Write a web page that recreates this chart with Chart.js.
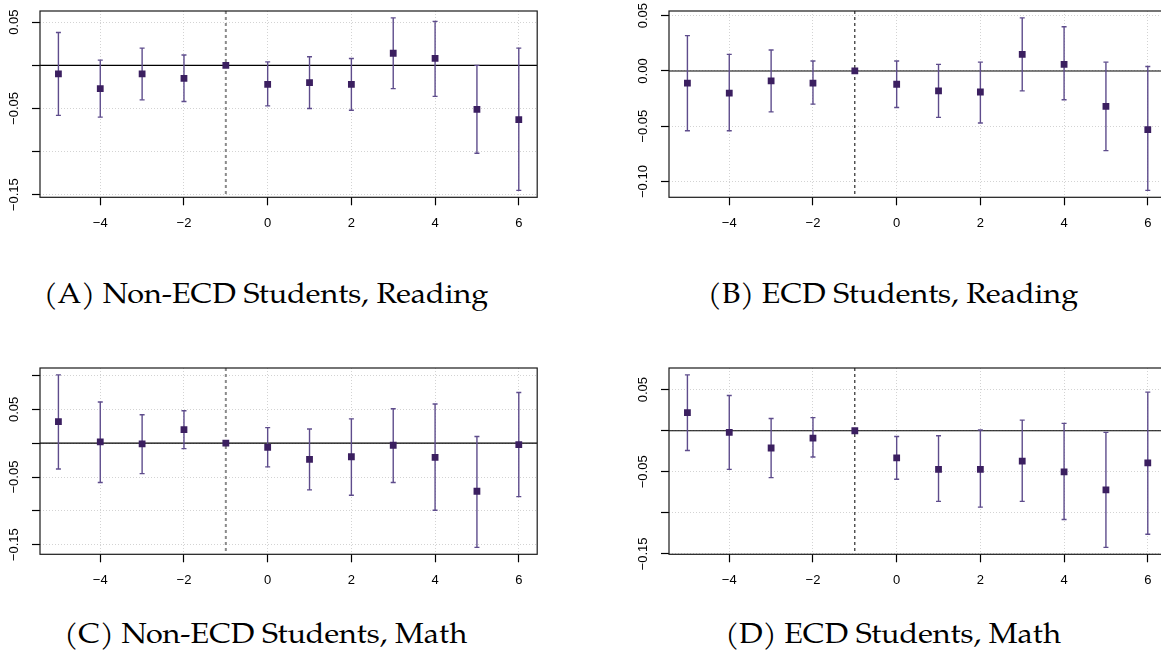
<!DOCTYPE html>
<html>
<head>
<meta charset="utf-8">
<script src="https://cdn.jsdelivr.net/npm/chart.js@4.4.1/dist/chart.umd.min.js"></script>
<style>
  html, body { margin: 0; padding: 0; background: #fff; overflow: hidden; width: 1161px; height: 655px; }
  .panel { position: absolute; width: 580px; height: 245px; }
  .panel canvas { display: block; }
  .cap {
    position: absolute; width: 532px; text-align: center; white-space: nowrap;
    font-family: "Palatino Linotype", "TeX Gyre Pagella", "Liberation Serif", serif;
    font-size: 28px; line-height: 28px; color: #000;
  }
  .cap span { display: inline-block; transform: scaleX(1.09); }
</style>
</head>
<body>
<div class="panel" style="left:0;top:0"><canvas id="chartA" width="580" height="245"></canvas></div>
<div class="panel" style="left:629px;top:0"><canvas id="chartB" width="580" height="245"></canvas></div>
<div class="panel" style="left:0;top:357px"><canvas id="chartC" width="580" height="245"></canvas></div>
<div class="panel" style="left:629px;top:357px"><canvas id="chartD" width="580" height="245"></canvas></div>
<div class="cap" style="left:0;top:283px"><span>(A) Non-ECD Students, Reading</span></div>
<div class="cap" style="left:627px;top:283px"><span>(B) ECD Students, Reading</span></div>
<div class="cap" style="left:0;top:623px"><span>(C) Non-ECD Students, Math</span></div>
<div class="cap" style="left:627px;top:623px"><span>(D) ECD Students, Math</span></div>
<script>
// event time relative to treatment
const xValues = [-5, -4, -3, -2, -1, 0, 1, 2, 3, 4, 5, 6];
const xTicks = [-4, -2, 0, 2, 4, 6];

// (A) Non-ECD students, reading
const readNonEst  = [-0.010, -0.027, -0.010, -0.015, 0, -0.022, -0.020, -0.022, 0.014, 0.008, -0.051, -0.063];
const readNonLow  = [-0.058, -0.060, -0.040, -0.042, 0, -0.047, -0.050, -0.052, -0.027, -0.036, -0.102, -0.145];
const readNonHigh = [0.038, 0.006, 0.020, 0.012, 0, 0.004, 0.010, 0.008, 0.055, 0.051, 0.000, 0.020];

// (B) ECD students, reading
const readEcdEst  = [-0.011, -0.020, -0.009, -0.011, 0, -0.012, -0.018, -0.019, 0.015, 0.006, -0.032, -0.053];
const readEcdLow  = [-0.054, -0.054, -0.037, -0.030, 0, -0.033, -0.042, -0.047, -0.018, -0.026, -0.072, -0.108];
const readEcdHigh = [0.032, 0.015, 0.019, 0.009, 0, 0.009, 0.006, 0.008, 0.048, 0.040, 0.008, 0.004];

// (C) Non-ECD students, math
const mathNonEst  = [0.032, 0.002, -0.001, 0.020, 0, -0.006, -0.024, -0.020, -0.003, -0.021, -0.071, -0.002];
const mathNonLow  = [-0.038, -0.058, -0.045, -0.008, 0, -0.035, -0.069, -0.077, -0.058, -0.099, -0.154, -0.079];
const mathNonHigh = [0.101, 0.061, 0.042, 0.048, 0, 0.023, 0.021, 0.036, 0.051, 0.058, 0.010, 0.075];

// (D) ECD students, math
const mathEcdEst  = [0.022, -0.002, -0.021, -0.009, 0, -0.033, -0.047, -0.047, -0.037, -0.050, -0.072, -0.039];
const mathEcdLow  = [-0.024, -0.047, -0.057, -0.032, 0, -0.059, -0.086, -0.093, -0.086, -0.108, -0.142, -0.126];
const mathEcdHigh = [0.068, 0.043, 0.015, 0.016, 0, -0.007, -0.006, 0.001, 0.013, 0.009, -0.002, 0.047];

// y ticks and which ones get a label
const yTicksA = [-0.15, -0.10, -0.05, 0, 0.05];
const yLabelsA = ["−0.15", "", "−0.05", "", "0.05"];
const yTicksB = [-0.10, -0.05, 0, 0.05];
const yLabelsB = ["−0.10", "−0.05", "0.00", "0.05"];
const yTicksC = [-0.15, -0.10, -0.05, 0, 0.05, 0.10];
const yLabelsC = ["−0.15", "", "−0.05", "", "0.05", ""];
const yTicksD = [-0.15, -0.10, -0.05, 0, 0.05];
const yLabelsD = ["−0.15", "", "−0.05", "", "0.05"];

const refX = -1;
const tickFont = { family: '"Liberation Sans", Arial, Helvetica, sans-serif', size: 13 };

function line(ctx, x1, y1, x2, y2) {
  ctx.beginPath();
  ctx.moveTo(x1, y1);
  ctx.lineTo(x2, y2);
  ctx.stroke();
}

function makePanel(id, est, low, high, yTicks, yLabels, refStyle) {
  // R-style axis range: data range padded by 4% each side
  const lo = Math.min(...low), hi = Math.max(...high);
  const pad = (hi - lo) * 0.04;
  const xPad = (xValues[xValues.length - 1] - xValues[0]) * 0.04;

  const decor = {
    id: 'decor_' + id,
    beforeDatasetsDraw(chart) {
      const { ctx, chartArea: a, scales: { x, y } } = chart;
      ctx.save();
      ctx.beginPath();
      ctx.rect(a.left, a.top, a.right - a.left, a.bottom - a.top);
      ctx.clip();
      // zero line
      ctx.strokeStyle = '#000';
      ctx.lineWidth = 1.2;
      ctx.setLineDash([]);
      const y0 = y.getPixelForValue(0);
      line(ctx, a.left, y0, a.right, y0);
      // treatment reference line
      const xr = x.getPixelForValue(refX);
      ctx.strokeStyle = refStyle.color;
      ctx.lineWidth = refStyle.width;
      ctx.setLineDash(refStyle.dash);
      line(ctx, xr, a.top, xr, a.bottom);
      // confidence intervals
      ctx.setLineDash([]);
      ctx.strokeStyle = '#5e4c8c';
      ctx.lineWidth = 1.4;
      low.forEach((l, i) => {
        const h = high[i];
        if (l === h) return;
        const px = x.getPixelForValue(xValues[i]);
        const pl = y.getPixelForValue(l);
        const ph = y.getPixelForValue(h);
        line(ctx, px, pl, px, ph);
        line(ctx, px - 2.5, pl, px + 2.5, pl);
        line(ctx, px - 2.5, ph, px + 2.5, ph);
      });
      ctx.restore();
    },
    afterDraw(chart) {
      const { ctx, chartArea: a, scales: { y } } = chart;
      ctx.save();
      ctx.strokeStyle = '#1a1a1a';
      ctx.lineWidth = 1.2;
      ctx.strokeRect(a.left, a.top, a.right - a.left, a.bottom - a.top);
      // rotated y labels
      ctx.fillStyle = '#000';
      ctx.font = '13px "Liberation Sans", Arial, Helvetica, sans-serif';
      ctx.textAlign = 'center';
      ctx.textBaseline = 'middle';
      yTicks.forEach((v, i) => {
        if (!yLabels[i]) return;
        ctx.save();
        ctx.translate(a.left - 25.5, y.getPixelForValue(v));
        ctx.rotate(-Math.PI / 2);
        ctx.fillText(yLabels[i], 0, 0);
        ctx.restore();
      });
      ctx.restore();
    }
  };

  const gridBase = {
    color: '#d3d3d3',
    lineWidth: 1,
    tickColor: '#000',
    tickWidth: 1.2,
    tickLength: 8,
    tickBorderDash: []
  };

  return new Chart(document.getElementById(id), {
    type: 'scatter',
    data: {
      datasets: [{
        data: xValues.map((xv, i) => ({ x: xv, y: est[i] })),
        pointStyle: 'rect',
        pointRadius: 4.8,
        backgroundColor: '#3b1f60',
        borderWidth: 0
      }]
    },
    options: {
      responsive: false,
      animation: false,
      events: [],
      layout: { padding: { top: 11, right: 42.8, left: 0, bottom: 0 } },
      plugins: { legend: { display: false }, tooltip: { enabled: false } },
      scales: {
        x: {
          type: 'linear',
          min: xValues[0] - xPad,
          max: xValues[xValues.length - 1] + xPad,
          afterBuildTicks: (s) => { s.ticks = xTicks.map(v => ({ value: v })); },
          afterFit: (s) => { s.height = 47.7; },
          grid: gridBase,
          border: { display: false, dash: [1, 2] },
          ticks: {
            autoSkip: false, maxRotation: 0, padding: 10,
            color: '#000', font: tickFont,
            callback: (v) => (v < 0 ? '−' + Math.abs(v) : String(v))
          }
        },
        y: {
          min: lo - pad,
          max: hi + pad,
          afterBuildTicks: (s) => { s.ticks = yTicks.map(v => ({ value: v })); },
          afterFit: (s) => { s.width = 40; },
          grid: gridBase,
          border: { display: false, dash: [1, 2] },
          ticks: { display: false }
        }
      }
    },
    plugins: [decor]
  });
}

const grayRef = { color: '#8a8a8a', width: 2, dash: [3, 3] };
const blackRef = { color: '#000', width: 1, dash: [3, 3] };

makePanel('chartA', readNonEst, readNonLow, readNonHigh, yTicksA, yLabelsA, grayRef);
makePanel('chartB', readEcdEst, readEcdLow, readEcdHigh, yTicksB, yLabelsB, blackRef);
makePanel('chartC', mathNonEst, mathNonLow, mathNonHigh, yTicksC, yLabelsC, grayRef);
makePanel('chartD', mathEcdEst, mathEcdLow, mathEcdHigh, yTicksD, yLabelsD, blackRef);
</script>
</body>
</html>
